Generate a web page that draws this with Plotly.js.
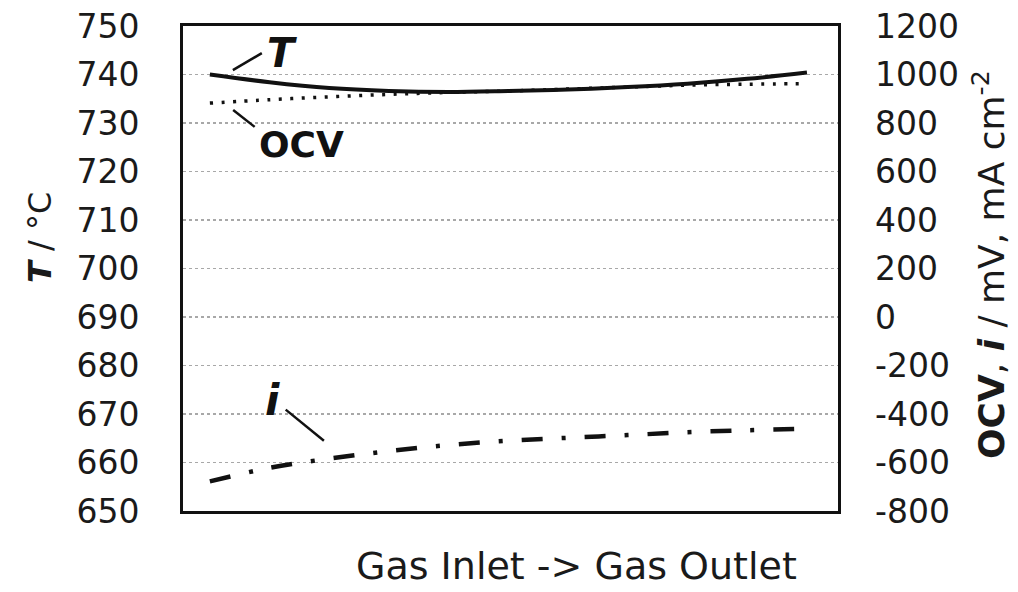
<!DOCTYPE html>
<html>
<head>
<meta charset="utf-8">
<script src="https://cdn.plot.ly/plotly-3.0.1.min.js"></script>
<style>html,body{margin:0;padding:0;background:#fff;}#chart{width:1018px;height:592px;}</style>
</head>
<body>
<div id="chart"></div>
<script>
// Relative position along the cell (0 = gas inlet, 1 = gas outlet)
var position = [0, 0.1, 0.2, 0.3, 0.4, 0.5, 0.6, 0.7, 0.8, 0.9, 1.0];
// Temperature, °C (left axis)
var temperature = [740.0, 738.4, 737.2, 736.6, 736.4, 736.6, 736.9, 737.4, 738.1, 739.1, 740.4];
// Open circuit voltage, mV (right axis)
var ocv = [882, 896, 908, 918, 926, 932, 940, 948, 956, 960, 962];
// Current density, mA cm-2 (right axis)
var current = [-678, -622, -584, -553, -528, -510, -498, -487, -475, -467, -461];

var leftTicks = [650, 660, 670, 680, 690, 700, 710, 720, 730, 740, 750];
var rightTicks = [-800, -600, -400, -200, 0, 200, 400, 600, 800, 1000, 1200];

var FONT = 'DejaVu Sans, Verdana, sans-serif';
var INK = '#1a1a1a';

var traces = [
  {x: position, y: temperature, type: 'scatter', mode: 'lines', yaxis: 'y',
   line: {color: '#111', width: 4, shape: 'spline'}, hoverinfo: 'skip'},
  {x: position, y: ocv, type: 'scatter', mode: 'lines', yaxis: 'y2',
   line: {color: '#111', width: 3.5, dash: '3px,8.5px', shape: 'spline'}, hoverinfo: 'skip'},
  {x: position, y: current, type: 'scatter', mode: 'lines', yaxis: 'y2',
   line: {color: '#111', width: 4.5, dash: '21px,19px,4px,19px', shape: 'spline'}, hoverinfo: 'skip'}
];

var layout = {
  width: 1018, height: 592,
  margin: {l: 183, r: 180, t: 26, b: 81, pad: 0},
  paper_bgcolor: '#fff', plot_bgcolor: '#fff',
  showlegend: false,
  font: {family: FONT, color: INK, size: 32},
  xaxis: {
    range: [-0.045, 1.052], showticklabels: false, ticks: '', showgrid: false,
    zeroline: false, showline: true, linecolor: '#111', linewidth: 3, mirror: true, fixedrange: true
  },
  yaxis: {
    range: [650, 750], tickvals: leftTicks, ticktext: leftTicks.map(String),
    ticks: '', ticklabelstandoff: 34, tickfont: {family: FONT, size: 33, color: INK},
    showgrid: true, gridcolor: '#a8a8a8', gridwidth: 1.2, griddash: 'dot',
    zeroline: false, showline: true, linecolor: '#111', linewidth: 3, mirror: true, fixedrange: true
  },
  yaxis2: {
    range: [-800, 1200], tickvals: rightTicks, ticktext: rightTicks.map(String),
    overlaying: 'y', side: 'right', ticks: '', ticklabelstandoff: 36,
    tickfont: {family: FONT, size: 33, color: INK},
    showgrid: false, zeroline: false, showline: false, fixedrange: true
  },
  shapes: [
    {type: 'line', xref: 'x', yref: 'y', x0: 0.0385, y0: 740.9, x1: 0.087, y1: 744.4,
     line: {color: '#111', width: 2.5}},
    {type: 'line', xref: 'x', yref: 'y', x0: 0.039, y0: 732.7, x1: 0.075, y1: 729.2,
     line: {color: '#111', width: 2.5}},
    {type: 'line', xref: 'x', yref: 'y', x0: 0.127, y0: 670.9, x1: 0.191, y1: 664.5,
     line: {color: '#111', width: 2.5}}
  ],
  annotations: [
    {xref: 'x', yref: 'y', x: 0.121, y: 744.4, text: '<b><i>T</i></b>', showarrow: false,
     font: {family: FONT, size: 40, color: '#111'}, xanchor: 'center', yanchor: 'middle'},
    {xref: 'x', yref: 'y', x: 0.154, y: 725.5, text: '<b>OCV</b>', showarrow: false,
     font: {family: FONT, size: 36, color: '#111'}, xanchor: 'center', yanchor: 'middle'},
    {xref: 'x', yref: 'y', x: 0.1055, y: 672.8, text: '<b><i>i</i></b>', showarrow: false,
     font: {family: FONT, size: 42, color: '#111'}, xanchor: 'center', yanchor: 'middle'},
    {xref: 'paper', yref: 'paper', x: -0.2183, y: 0.563, text: '<b><i>T</i></b> / °C',
     textangle: -90, showarrow: false, font: {family: FONT, size: 32, color: INK},
     xanchor: 'center', yanchor: 'middle'},
    {xref: 'paper', yref: 'paper', x: 1.2305, y: 0.509,
     text: '<b>OCV</b>, <b><i>i</i></b> / mV, mA cm<sup>-2</sup>',
     textangle: -90, showarrow: false, font: {family: FONT, size: 36, color: INK},
     xanchor: 'center', yanchor: 'middle'},
    {xref: 'paper', yref: 'paper', x: 0.6015, y: -0.163, text: 'Gas Inlet -> Gas Outlet',
     showarrow: false, font: {family: FONT, size: 38, color: INK},
     xanchor: 'center', yanchor: 'bottom'}
  ]
};

Plotly.newPlot('chart', traces, layout, {displayModeBar: false, staticPlot: true});
</script>
</body>
</html>
